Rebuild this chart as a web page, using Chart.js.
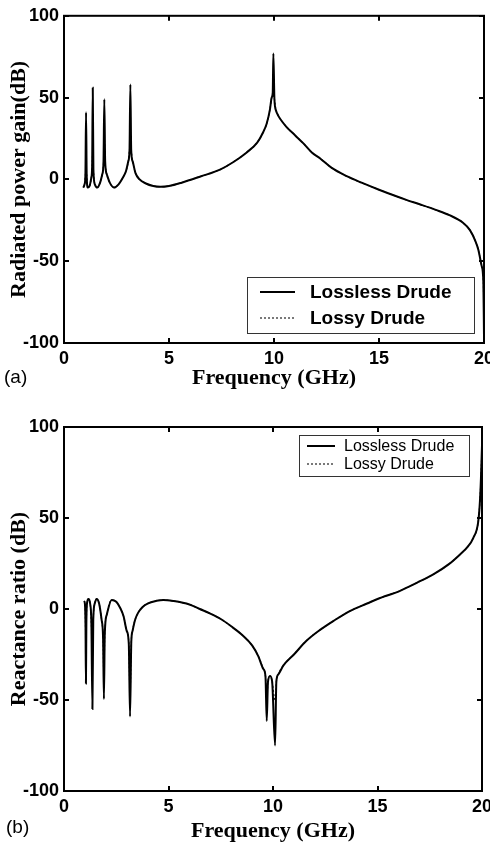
<!DOCTYPE html>
<html>
<head>
<meta charset="utf-8">
<script src="https://cdn.jsdelivr.net/npm/chart.js@4.4.1/dist/chart.umd.min.js"></script>
<style>
  html, body { margin: 0; padding: 0; background: #fff; overflow: hidden; }
  body { width: 490px; height: 846px; position: relative; }
  canvas { position: absolute; left: 0; }
  #gain { top: 0; }
  #react { top: 410px; }
</style>
</head>
<body>
<canvas id="gain" width="500" height="423"></canvas>
<canvas id="react" width="500" height="436"></canvas>
<script>
// (a) radiated power gain (dB) against frequency (GHz)
const gainFreq = [
  0.92, 0.98, 1.02, 1.05, 1.08, 1.13, 1.22, 1.30, 1.34, 1.37, 1.40, 1.47,
  1.58, 1.72, 1.82, 1.88, 1.92, 1.96, 2.04, 2.18, 2.38, 2.60, 2.80, 2.95,
  3.06, 3.12, 3.16, 3.20, 3.27, 3.40, 3.60, 3.90, 4.25, 4.60, 5.00, 5.60,
  6.50, 7.43, 8.05, 8.70, 9.20, 9.49, 9.65, 9.81, 9.89, 9.94, 9.97, 10.02,
  10.10, 10.20, 10.35, 10.60, 11.00, 11.40, 11.80, 12.20, 12.75, 13.46, 14.17, 15.00,
  15.76, 16.30, 17.00, 17.67, 18.38, 19.00, 19.33, 19.60, 19.73, 19.89, 19.97, 20.00
];
const gainLossless = [
  -5, -3, 3, 41, 3, -5, -4, 1, 8, 56, 6, -3,
  -5, -2, 3, 10, 49, 11, 3, -2, -5, -3, 1, 5,
  11, 18, 58, 18, 11, 4, 0, -2.5, -4, -4.5, -4, -2,
  1.8, 6, 10.5, 16.5, 22.5, 29, 34, 43, 50, 53, 77, 49,
  42, 39, 36, 32, 27, 22, 16.5, 12.8, 7, 2, -2, -6.3,
  -10, -12.5, -15.5, -18.5, -22, -26.5, -31, -38, -43, -53, -63, -96
];
const gainLossy = [
  -5, -3, 3, 5, 3, -5, -4, 1, 8, 17, 6, -3,
  -5, -2, 3, 10, 25, 11, 3, -2, -5, -3, 1, 5,
  11, 18, 23, 18, 11, 4, 0, -2.5, -4, -4.5, -4, -2,
  1.8, 6, 10.5, 16.5, 22.5, 29, 34, 43, 50, 51, 51, 49,
  42, 39, 36, 32, 27, 22, 16.5, 12.8, 7, 2, -2, -6.3,
  -10, -12.5, -15.5, -18.5, -22, -26.5, -31, -38, -43, -53, -63, -96
];

// (b) reactance ratio (dB) against frequency (GHz)
const reactFreq = [
  0.96, 1.00, 1.03, 1.05, 1.07, 1.10, 1.17, 1.25, 1.31, 1.36, 1.40, 1.47,
  1.56, 1.68, 1.80, 1.87, 1.91, 1.95, 2.05, 2.28, 2.50, 2.67, 2.85, 3.00,
  3.10, 3.16, 3.22, 3.28, 3.40, 3.55, 3.75, 4.00, 4.43, 4.75, 5.23, 6.00,
  6.50, 7.00, 7.50, 8.00, 8.50, 9.00, 9.30, 9.54, 9.64, 9.70, 9.76, 9.86,
  9.96, 10.10, 10.16, 10.25, 10.50, 11.00, 11.60, 12.25, 12.90, 13.70, 14.50, 15.00,
  16.08, 16.90, 17.67, 18.40, 18.95, 19.30, 19.58, 19.82, 19.90, 19.95, 20.00
];
const reactLossless = [
  4.4, 3, -10, -41, -8, 3, 5.5, 3, -8, -55, -6, 3,
  5.5, 3, -6, -16, -49.5, -14, -3, 5, 4, 1, -4, -12,
  -19, -59, -18, -12, -6, -2, 1, 3, 4.5, 5, 4.4, 2.5,
  0, -2.5, -5.5, -9.5, -14, -20, -26, -33, -37, -61.5, -40, -36.8,
  -40, -75, -40, -36, -31, -25, -17.5, -11.5, -6.5, -1, 3, 5.5,
  10, 14.5, 19, 24.5, 30, 34, 39, 48, 59, 72, 90
];
const reactLossy = [
  4.4, 3, -10, -37, -8, 3, 5.5, 3, -8, -27, -6, 3,
  5.5, 3, -6, -16, -40, -14, -3, 5, 4, 1, -4, -12,
  -19, -47, -18, -12, -6, -2, 1, 3, 4.5, 5, 4.4, 2.5,
  0, -2.5, -5.5, -9.5, -14, -20, -26, -33, -37, -50, -40, -36.8,
  -40, -50, -40, -36, -31, -25, -17.5, -11.5, -6.5, -1, 3, 5.5,
  10, 14.5, 19, 24.5, 30, 34, 39, 48, 59, 72, 90
];

const freqTicks = [0, 5, 10, 15, 20];
const dbTicks = [-100, -50, 0, 50, 100];
const seriesNames = ['Lossless Drude', 'Lossy Drude'];

const SANS = "'Liberation Sans', Arial, sans-serif";
const SERIF = "'Liberation Serif', 'Times New Roman', serif";

// box round the plot area, with short ticks pointing inwards on all four sides
const framePlugin = {
  id: 'frame',
  afterDatasetsDraw(chart) {
    const { ctx, chartArea: a, scales } = chart;
    const len = 5;
    ctx.save();
    ctx.strokeStyle = '#000';
    ctx.lineWidth = 2;
    ctx.strokeRect(a.left, a.top, a.right - a.left, a.bottom - a.top);
    ctx.beginPath();
    scales.x.ticks.forEach(t => {
      const px = Math.round(scales.x.getPixelForValue(t.value));
      ctx.moveTo(px, a.bottom); ctx.lineTo(px, a.bottom - len);
      ctx.moveTo(px, a.top); ctx.lineTo(px, a.top + len);
    });
    scales.y.ticks.forEach(t => {
      const py = Math.round(scales.y.getPixelForValue(t.value));
      ctx.moveTo(a.left, py); ctx.lineTo(a.left + len, py);
      ctx.moveTo(a.right, py); ctx.lineTo(a.right - len, py);
    });
    ctx.stroke();
    ctx.restore();
  }
};

// framed legend at a fixed spot plus the panel letter
const notesPlugin = {
  id: 'notes',
  afterDraw(chart, args, opts) {
    const { ctx } = chart;
    const lg = opts.legend;
    ctx.save();
    ctx.fillStyle = '#fff';
    ctx.fillRect(lg.x, lg.y, lg.w, lg.h);
    ctx.strokeStyle = '#333';
    ctx.lineWidth = 1;
    ctx.strokeRect(lg.x + 0.5, lg.y + 0.5, lg.w, lg.h);
    ctx.font = lg.font;
    ctx.textBaseline = 'middle';
    ctx.textAlign = 'left';
    chart.data.datasets.forEach((ds, i) => {
      const y = lg.rows[i];
      ctx.beginPath();
      ctx.setLineDash(ds.borderDash || []);
      ctx.lineWidth = ds.borderWidth;
      ctx.strokeStyle = ds.borderColor;
      ctx.moveTo(lg.lineX[0], y);
      ctx.lineTo(lg.lineX[1], y);
      ctx.stroke();
      ctx.setLineDash([]);
      ctx.fillStyle = '#000';
      ctx.fillText(ds.label, lg.textX, y + 1);
    });
    ctx.font = opts.tagFont;
    ctx.fillStyle = '#000';
    ctx.fillText(opts.tag, opts.tagX, opts.tagY);
    ctx.restore();
  }
};

function makePanel(id, freq, lossless, lossy, yTitle, panel) {
  const pts = ys => freq.map((f, i) => ({ x: f, y: ys[i] }));
  return new Chart(document.getElementById(id), {
    type: 'line',
    data: {
      datasets: [
        { label: seriesNames[0], data: pts(lossless), borderColor: '#000', borderWidth: 2,
          pointRadius: 0, cubicInterpolationMode: 'monotone' },
        { label: seriesNames[1], data: pts(lossy), borderColor: '#222', borderWidth: 1.2,
          borderDash: [2, 2], pointRadius: 0, cubicInterpolationMode: 'monotone' }
      ]
    },
    options: {
      responsive: false,
      animation: false,
      devicePixelRatio: 1,
      layout: { padding: { left: 0, right: panel.padRight, top: panel.padTop, bottom: 0 } },
      plugins: {
        legend: { display: false },
        tooltip: { enabled: false },
        notes: panel.notes
      },
      scales: {
        x: {
          type: 'linear', min: 0, max: 20,
          afterBuildTicks: s => { s.ticks = freqTicks.map(v => ({ value: v })); },
          afterFit: s => { s.height = panel.xHeight; },
          grid: { display: false, drawTicks: false },
          border: { display: false },
          ticks: { color: '#000', padding: 5, maxRotation: 0,
                   font: { family: SANS, size: 18, weight: 'bold' } },
          title: { display: true, text: 'Frequency (GHz)', color: '#000',
                   padding: { top: 0, bottom: panel.xTitlePad },
                   font: { family: SERIF, size: 22, weight: 'bold' } }
        },
        y: {
          type: 'linear', min: -100, max: 100,
          afterBuildTicks: s => { s.ticks = dbTicks.map(v => ({ value: v })); },
          afterFit: s => { s.width = 64; },
          grid: { display: false, drawTicks: false },
          border: { display: false },
          ticks: { color: '#000', padding: 5,
                   font: { family: SANS, size: 18, weight: 'bold' } },
          title: { display: true, text: yTitle, color: '#000',
                   padding: { top: 6, bottom: 0 },
                   font: { family: SERIF, size: 22, weight: 'bold' } }
        }
      }
    },
    plugins: [framePlugin, notesPlugin]
  });
}

makePanel('gain', gainFreq, gainLossless, gainLossy, 'Radiated power gain(dB)', {
  padTop: 13, padRight: 16, xHeight: 80, xTitlePad: 31,
  notes: {
    legend: { x: 247, y: 277, w: 227, h: 56, rows: [292, 318], lineX: [260, 295], textX: 310,
              font: `bold 19px ${SANS}` },
    tag: '(a)', tagX: 4, tagY: 378, tagFont: `19px ${SANS}`
  }
});

makePanel('react', reactFreq, reactLossless, reactLossy, 'Reactance ratio (dB)', {
  padTop: 17, padRight: 18, xHeight: 55, xTitlePad: 1,
  notes: {
    legend: { x: 299, y: 25, w: 170, h: 41, rows: [36, 54], lineX: [307, 335], textX: 344,
              font: `16px ${SANS}` },
    tag: '(b)', tagX: 6, tagY: 418, tagFont: `19px ${SANS}`
  }
});
</script>
</body>
</html>
